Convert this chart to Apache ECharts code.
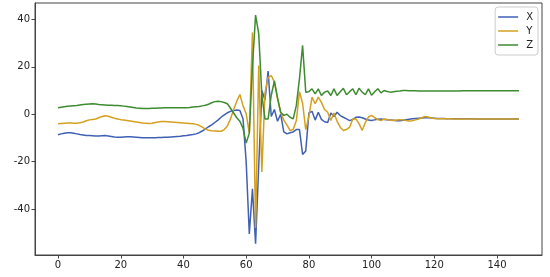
<!DOCTYPE html>
<html>
<head>
<meta charset="utf-8">
<script src="https://cdn.jsdelivr.net/npm/echarts@6/dist/echarts.min.js"></script>
<style>html,body{margin:0;padding:0;background:#fff}#c{width:550px;height:277px}</style>
</head>
<body>
<div id="c"></div>
<script>
const seriesNames = ['X', 'Y', 'Z'];
const xTicks = [0, 20, 40, 60, 80, 100, 120, 140];
const yTicks = [-40, -20, 0, 20, 40];

const X = [-8.7,-8.3,-8.0,-7.8,-7.8,-8.0,-8.3,-8.6,-8.8,-9.0,
-9.0,-9.1,-9.2,-9.2,-9.1,-9.0,-9.2,-9.4,-9.6,-9.7,
-9.7,-9.6,-9.5,-9.5,-9.6,-9.7,-9.8,-9.9,-9.9,-9.9,
-9.9,-9.9,-9.8,-9.8,-9.7,-9.7,-9.6,-9.5,-9.4,-9.3,
-9.1,-9.0,-8.8,-8.6,-8.3,-7.8,-7.1,-6.2,-5.3,-4.5,
-3.5,-2.5,-1.3,-0.3,0.6,1.2,1.5,1.8,1.6,-2.0,
-20.0,-50.5,-31.5,-54.6,-22.0,10.0,6.0,18.2,-1.0,2.0,
-3.0,0.0,-7.5,-8.3,-7.8,-7.5,-6.5,-6.5,-17.0,-15.5,
0.5,1.2,-2.5,0.8,-2.2,-3.2,-3.5,0.5,-1.0,0.8,
-0.6,-1.3,-2.0,-2.7,-2.2,-1.3,-1.2,-1.5,-2.0,-2.5,
-2.7,-2.4,-2.1,-2.0,-2.2,-2.4,-2.5,-2.6,-2.8,-2.8,
-2.6,-2.3,-2.1,-1.9,-1.8,-1.7,-1.6,-1.5,-1.5,-1.6,
-1.7,-1.8,-1.8,-1.8,-1.9,-1.9,-1.9,-1.9,-1.9,-1.9,
-1.9,-1.9,-1.9,-2.0,-2.0,-2.0,-2.0,-2.0,-2.0,-2.0,
-2.0,-2.0,-2.0,-2.0,-2.0,-2.0,-2.0,-2.0];

const Y = [-4.0,-3.9,-3.8,-3.7,-3.7,-3.8,-3.8,-3.6,-3.3,-2.8,
-2.4,-2.2,-2.0,-1.5,-1.0,-0.7,-0.9,-1.3,-1.7,-2.0,
-2.3,-2.5,-2.7,-2.9,-3.1,-3.3,-3.5,-3.7,-3.8,-3.9,
-3.8,-3.5,-3.3,-3.1,-3.1,-3.2,-3.3,-3.4,-3.5,-3.6,
-3.7,-3.8,-3.9,-4.0,-4.3,-4.7,-5.5,-6.3,-6.8,-7.0,
-7.1,-7.2,-7.2,-6.5,-5.0,-2.0,2.0,5.5,8.3,3.5,
0.2,-8.0,34.5,-48.0,20.5,-24.4,9.0,15.5,16.3,13.5,
6.5,0.8,-2.5,-4.5,-6.9,-6.5,-2.7,9.5,4.5,-6.5,
-1.0,7.2,4.4,7.2,5.0,2.0,0.8,-2.7,0.5,-3.0,
-5.5,-6.9,-6.5,-5.5,-2.0,-2.0,-4.0,-6.9,-3.5,-1.2,
-0.5,-1.5,-2.3,-2.7,-2.0,-2.2,-2.6,-2.7,-2.5,-2.3,
-2.4,-2.7,-2.9,-2.8,-2.4,-2.0,-1.5,-1.0,-1.2,-1.6,
-1.8,-1.9,-1.9,-1.9,-1.9,-1.9,-2.0,-2.0,-2.0,-2.0,
-2.0,-2.0,-2.0,-2.0,-2.0,-2.0,-2.0,-2.0,-2.0,-2.0,
-2.0,-2.0,-2.0,-2.0,-2.0,-2.0,-2.0,-2.0];

const Z = [2.7,2.9,3.1,3.3,3.5,3.6,3.7,3.9,4.1,4.2,
4.3,4.4,4.3,4.1,4.0,3.9,3.8,3.8,3.7,3.7,
3.6,3.4,3.2,3.0,2.8,2.6,2.5,2.4,2.4,2.4,
2.5,2.5,2.6,2.6,2.7,2.7,2.7,2.7,2.7,2.7,
2.7,2.7,2.8,3.0,3.1,3.2,3.5,3.8,4.2,4.8,
5.3,5.5,5.3,4.9,4.4,2.5,0.5,-1.5,-3.0,-6.0,
-12.2,-8.0,20.0,41.8,34.0,8.0,-2.0,-2.0,8.0,14.0,
7.0,0.8,-0.5,0.0,-1.3,-2.0,3.7,15.0,29.0,9.3,
9.5,10.7,8.6,10.7,7.9,9.3,9.8,7.9,10.7,7.9,
9.5,10.9,8.2,9.5,10.7,8.2,10.9,9.3,8.2,10.7,
8.0,9.5,10.7,9.0,10.0,9.6,9.3,9.5,9.7,9.8,
10.0,10.0,9.9,9.9,9.9,9.8,9.8,9.8,9.8,9.8,
9.8,9.8,9.8,9.8,9.8,9.8,9.8,9.8,9.8,9.9,
9.9,9.9,9.9,9.9,9.9,9.9,9.9,9.9,9.9,9.9,
9.9,9.9,9.9,9.9,9.9,9.9,9.9,9.9];

const colors = ['#3f60b5', '#d4a020', '#3d8c30'];
const values = [X, Y, Z];

const chart = echarts.init(document.getElementById('c'), null, {renderer: 'canvas'});
const font = 'DejaVu Sans';
chart.setOption({
  animation: false,
  backgroundColor: '#fff',
  grid: {left: 35, right: 8, top: 3, bottom: 22, show: true, borderColor: '#444', borderWidth: 1, containLabel: false},
  legend: {
    orient: 'vertical', right: 12, top: 7,
    data: seriesNames.map(n => ({name: n, icon: 'rect'})),
    itemWidth: 20, itemHeight: 1.5, itemGap: 2,
    borderColor: '#ccc', borderWidth: 1, borderRadius: 3,
    padding: [4, 5, 4, 3],
    textStyle: {fontFamily: font, fontSize: 10, color: '#222', padding: [0, 0, 0, 3], lineHeight: 12}
  },
  xAxis: {
    type: 'value', min: -7.35, max: 154.35,
    splitLine: {show: false},
    axisLine: {show: true, onZero: false, lineStyle: {color: '#444'}},
    axisTick: {show: true, length: 3.5, customValues: xTicks, lineStyle: {color: '#444'}},
    axisLabel: {customValues: xTicks, fontFamily: font, fontSize: 10, color: '#222', margin: 5}
  },
  yAxis: {
    type: 'value', min: -59.4, max: 46.9,
    splitLine: {show: false},
    axisLine: {show: true, onZero: false, lineStyle: {color: '#444'}},
    axisTick: {show: true, length: 3.5, customValues: yTicks, lineStyle: {color: '#444'}},
    axisLabel: {customValues: yTicks, fontFamily: font, fontSize: 10, color: '#222', margin: 5}
  },
  series: seriesNames.map((n, k) => ({
    name: n, type: 'line', showSymbol: false, symbol: 'none',
    lineStyle: {width: 1.5, color: colors[k]}, itemStyle: {color: colors[k]},
    data: values[k].map((v, i) => [i, v])
  }))
});
</script>
</body>
</html>
